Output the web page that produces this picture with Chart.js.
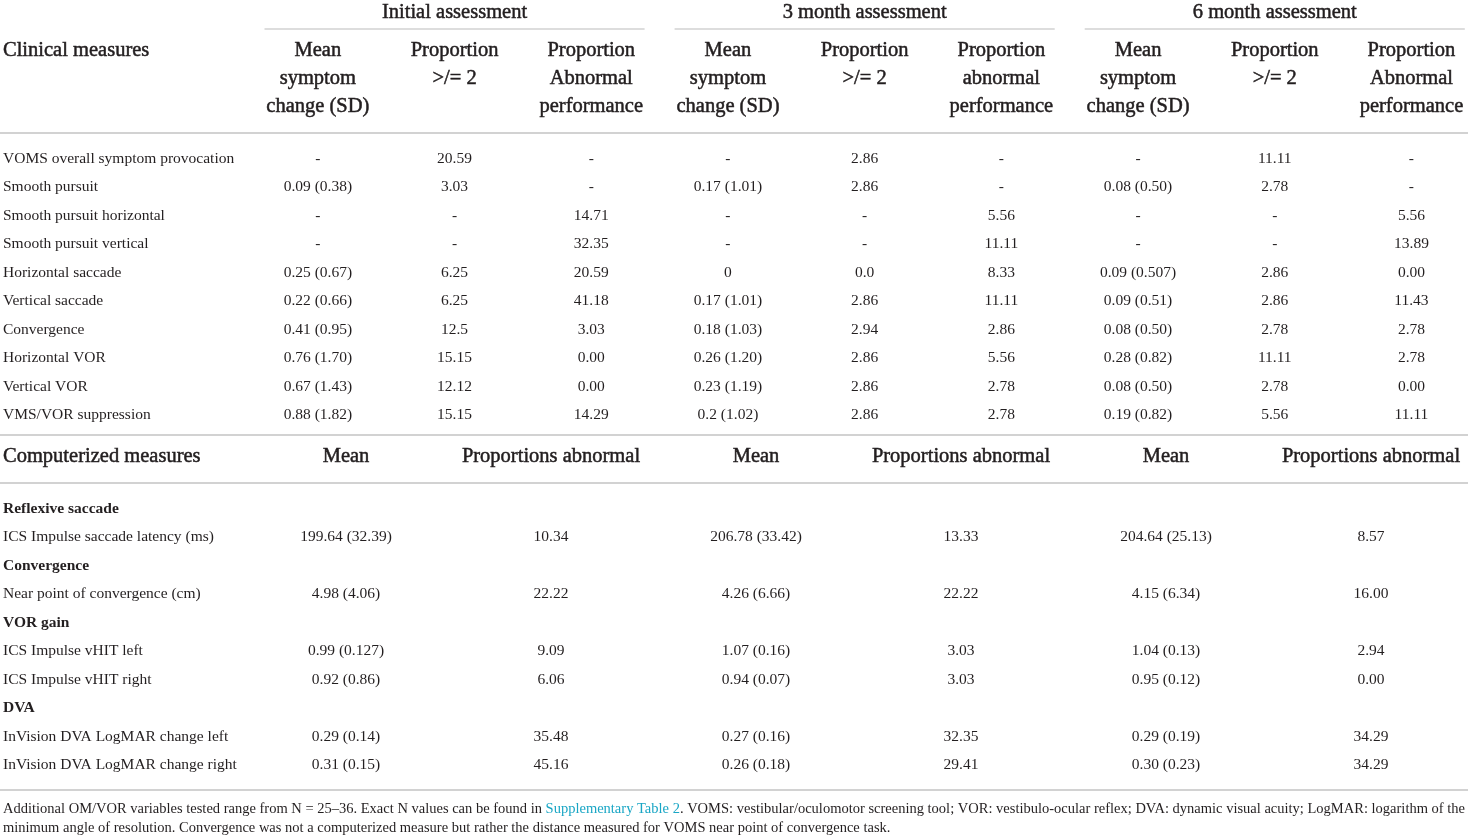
<!DOCTYPE html>
<html>
<head>
<meta charset="utf-8">
<title>OM/VOR clinical and computerized measures</title>
<script src="https://cdn.jsdelivr.net/npm/chart.js@4.4.1/dist/chart.umd.min.js"></script>
<style>
    html, body { margin: 0; padding: 0; background: #fff; }
    #wrap { width: 1468px; height: 838px; }
</style>
</head>
<body>
<div id="wrap"><canvas id="tableChart" width="1468" height="838"></canvas></div>
<script>
(function() {
    'use strict';

    // ---- table content ----
    const groupLabels = ['Initial assessment', '3 month assessment', '6 month assessment'];

    const clinicalTitle = 'Clinical measures';
    const clinicalHeaders = [
        ['Mean', 'symptom', 'change (SD)'], ['Proportion', '>/= 2'], ['Proportion', 'Abnormal', 'performance'],
        ['Mean', 'symptom', 'change (SD)'], ['Proportion', '>/= 2'], ['Proportion', 'abnormal', 'performance'],
        ['Mean', 'symptom', 'change (SD)'], ['Proportion', '>/= 2'], ['Proportion', 'Abnormal', 'performance']
    ];
    const clinicalRows = [
        'VOMS overall symptom provocation', 'Smooth pursuit', 'Smooth pursuit horizontal',
        'Smooth pursuit vertical', 'Horizontal saccade', 'Vertical saccade', 'Convergence',
        'Horizontal VOR', 'Vertical VOR', 'VMS/VOR suppression'
    ];
    const initialMean = ['-', '0.09 (0.38)', '-', '-', '0.25 (0.67)', '0.22 (0.66)', '0.41 (0.95)', '0.76 (1.70)', '0.67 (1.43)', '0.88 (1.82)'];
    const initialProp = ['20.59', '3.03', '-', '-', '6.25', '6.25', '12.5', '15.15', '12.12', '15.15'];
    const initialAbn = ['-', '-', '14.71', '32.35', '20.59', '41.18', '3.03', '0.00', '0.00', '14.29'];
    const month3Mean = ['-', '0.17 (1.01)', '-', '-', '0', '0.17 (1.01)', '0.18 (1.03)', '0.26 (1.20)', '0.23 (1.19)', '0.2 (1.02)'];
    const month3Prop = ['2.86', '2.86', '-', '-', '0.0', '2.86', '2.94', '2.86', '2.86', '2.86'];
    const month3Abn = ['-', '-', '5.56', '11.11', '8.33', '11.11', '2.86', '5.56', '2.78', '2.78'];
    const month6Mean = ['-', '0.08 (0.50)', '-', '-', '0.09 (0.507)', '0.09 (0.51)', '0.08 (0.50)', '0.28 (0.82)', '0.08 (0.50)', '0.19 (0.82)'];
    const month6Prop = ['11.11', '2.78', '-', '-', '2.86', '2.86', '2.78', '11.11', '2.78', '5.56'];
    const month6Abn = ['-', '-', '5.56', '13.89', '0.00', '11.43', '2.78', '2.78', '0.00', '11.11'];

    const computerizedTitle = 'Computerized measures';
    const computerizedHeaders = ['Mean', 'Proportions abnormal', 'Mean', 'Proportions abnormal', 'Mean', 'Proportions abnormal'];
    // null values mark a section heading row
    const computerizedRows = [
        'Reflexive saccade', 'ICS Impulse saccade latency (ms)',
        'Convergence', 'Near point of convergence (cm)',
        'VOR gain', 'ICS Impulse vHIT left', 'ICS Impulse vHIT right',
        'DVA', 'InVision DVA LogMAR change left', 'InVision DVA LogMAR change right'
    ];
    const compInitialMean = [null, '199.64 (32.39)', null, '4.98 (4.06)', null, '0.99 (0.127)', '0.92 (0.86)', null, '0.29 (0.14)', '0.31 (0.15)'];
    const compInitialAbn = [null, '10.34', null, '22.22', null, '9.09', '6.06', null, '35.48', '45.16'];
    const comp3Mean = [null, '206.78 (33.42)', null, '4.26 (6.66)', null, '1.07 (0.16)', '0.94 (0.07)', null, '0.27 (0.16)', '0.26 (0.18)'];
    const comp3Abn = [null, '13.33', null, '22.22', null, '3.03', '3.03', null, '32.35', '29.41'];
    const comp6Mean = [null, '204.64 (25.13)', null, '4.15 (6.34)', null, '1.04 (0.13)', '0.95 (0.12)', null, '0.29 (0.19)', '0.30 (0.23)'];
    const comp6Abn = [null, '8.57', null, '16.00', null, '2.94', '0.00', null, '34.29', '34.29'];

    const footnoteLines = [
        [
            { text: 'Additional OM/VOR variables tested range from N = 25\u201336. Exact N values can be found in ' },
            { text: 'Supplementary Table 2', link: true },
            { text: '. VOMS: vestibular/oculomotor screening tool; VOR: vestibulo-ocular reflex; DVA: dynamic visual acuity; LogMAR: logarithm of the' }
        ],
        [
            { text: 'minimum angle of resolution. Convergence was not a computerized measure but rather the distance measured for VOMS near point of convergence task.' }
        ]
    ];

    const clinicalColumns = [initialMean, initialProp, initialAbn, month3Mean, month3Prop, month3Abn, month6Mean, month6Prop, month6Abn];
    const computerizedColumns = [compInitialMean, compInitialAbn, comp3Mean, comp3Abn, comp6Mean, comp6Abn];

    // ---- layout (table units) ----
    const W = 1468, H = 838;
    const FONT = '"Liberation Serif", "Times New Roman", serif';
    const INK = '#231f20';
    const RULE = '#d2d2d2';
    const LINK = '#19a6c5';
    const layout = {
        labelX: 3,
        clinStart: 249.5, clinColW: 136.7,
        compStart: 243.5, compColW: 205,
        groupY: 11, groupRuleY: 29, groupInset: 15,
        headY: 49, headLine: 28,
        ruleHead: 133,
        clinRowY: 157, rowH: 28.5,
        ruleMid: 435, compHeadY: 455, ruleComp: 483,
        compRowY: 507,
        ruleFoot: 790, footY: 808, footLine: 19,
        textDrop: 1.5
    };

    const tablePlugin = {
        id: 'tablePlugin',
        afterDraw(chart) {
            const ctx = chart.ctx;
            const xs = chart.scales.x, ys = chart.scales.y;
            const px = v => xs.getPixelForValue(v);
            const py = v => ys.getPixelForValue(v);
            const ty = v => py(v + layout.textDrop);
            const clinX = i => px(layout.clinStart + (i + 0.5) * layout.clinColW);
            const compX = i => px(layout.compStart + (i + 0.5) * layout.compColW);

            function text(str, x, y, size, align, weight, color) {
                ctx.font = (weight || 'normal') + ' ' + size + 'px ' + FONT;
                ctx.textAlign = align || 'left';
                ctx.fillStyle = color || INK;
                ctx.fillText(str, x, y);
            }
            function heading(str, x, y, align) {
                // slightly heavier than regular, like the semibold heads
                text(str, x, y, 20.5, align);
                ctx.lineWidth = 0.5;
                ctx.strokeStyle = INK;
                ctx.strokeText(str, x, y);
            }
            function rule(x1, x2, y, w) {
                ctx.beginPath();
                ctx.moveTo(px(x1), py(y));
                ctx.lineTo(px(x2), py(y));
                ctx.lineWidth = w || 2;
                ctx.strokeStyle = RULE;
                ctx.stroke();
            }

            ctx.save();
            ctx.textBaseline = 'middle';

            // group headers with their underlines
            groupLabels.forEach((g, gi) => {
                const a = layout.clinStart + gi * 3 * layout.clinColW;
                const b = a + 3 * layout.clinColW;
                heading(g, px((a + b) / 2), ty(layout.groupY), 'center');
                rule(a + layout.groupInset, Math.min(b - layout.groupInset, W), layout.groupRuleY, 1.6);
            });

            // clinical header
            heading(clinicalTitle, px(layout.labelX), ty(layout.headY), 'left');
            clinicalHeaders.forEach((lines, ci) => {
                lines.forEach((l, li) => heading(l, clinX(ci), ty(layout.headY + li * layout.headLine), 'center'));
            });
            rule(0, W, layout.ruleHead);

            // clinical body
            clinicalRows.forEach((r, ri) => {
                const y = ty(layout.clinRowY + ri * layout.rowH);
                text(r, px(layout.labelX), y, 15.5);
                clinicalColumns.forEach((col, ci) => text(col[ri], clinX(ci), y, 15.5, 'center'));
            });
            rule(0, W, layout.ruleMid);

            // computerized header
            heading(computerizedTitle, px(layout.labelX), ty(layout.compHeadY), 'left');
            computerizedHeaders.forEach((h, ci) => heading(h, compX(ci), ty(layout.compHeadY), 'center'));
            rule(0, W, layout.ruleComp);

            // computerized body
            computerizedRows.forEach((r, ri) => {
                const y = ty(layout.compRowY + ri * layout.rowH);
                const isSection = computerizedColumns[0][ri] === null;
                text(r, px(layout.labelX), y, 15.5, 'left', isSection ? 'bold' : 'normal');
                if (!isSection) {
                    computerizedColumns.forEach((col, ci) => text(col[ri], compX(ci), y, 15.5, 'center'));
                }
            });
            rule(0, W, layout.ruleFoot);

            // footnote, condensed to the table width
            const footSize = 14.5;
            ctx.font = footSize + 'px ' + FONT;
            const natural = footnoteLines[0].reduce((s, seg) => s + ctx.measureText(seg.text).width, 0);
            const squeeze = (px(W - 3) - px(layout.labelX)) / natural;
            footnoteLines.forEach((segs, li) => {
                ctx.save();
                ctx.translate(px(layout.labelX), ty(layout.footY + li * layout.footLine));
                ctx.scale(squeeze, 1);
                let x = 0;
                segs.forEach(seg => {
                    text(seg.text, x, 0, footSize, 'left', 'normal', seg.link ? LINK : INK);
                    x += ctx.measureText(seg.text).width;
                });
                ctx.restore();
            });

            ctx.restore();
        }
    };

    new Chart(document.getElementById('tableChart'), {
        type: 'scatter',
        data: { datasets: [] },
        options: {
            responsive: false,
            animation: false,
            devicePixelRatio: 1,
            layout: { padding: 0 },
            plugins: { legend: { display: false }, tooltip: { enabled: false } },
            scales: {
                x: { type: 'linear', display: false, min: 0, max: W },
                y: { type: 'linear', display: false, min: 0, max: H, reverse: true }
            }
        },
        plugins: [tablePlugin]
    });
})();
</script>
</body>
</html>
